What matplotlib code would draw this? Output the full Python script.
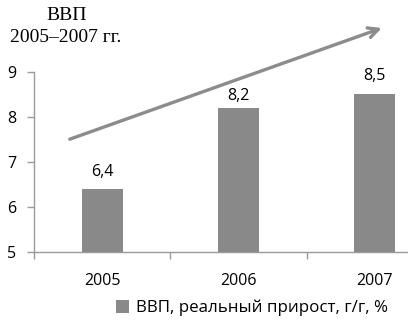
import matplotlib
matplotlib.use("Agg")
import matplotlib.pyplot as plt
from matplotlib.patches import Patch

years = ["2005", "2006", "2007"]
gdp_growth = [6.4, 8.2, 8.5]
value_labels = ["6,4", "8,2", "8,5"]
y_ticks = [5, 6, 7, 8, 9]
title_lines = ["ВВП", "2005–2007 гг."]
legend_label = "ВВП, реальный прирост, г/г, %"

bar_color = "#898989"
axis_color = "#9a9a9a"
arrow_color = "#8c8c8c"
sans = ["Open Sans", "DejaVu Sans"]
label_offsets = [6, 2.5, 7.5]  # points above each bar

fig = plt.figure(figsize=(4.08, 3.32), dpi=100)
ax = fig.add_axes([34 / 408, 1 - 251.7 / 332, 1 - 34 / 408, (251.7 - 71.7) / 332])

x = list(range(len(years)))
ax.bar(x, gdp_growth, width=0.3, bottom=0, color=bar_color, zorder=2)

ax.set_ylim(5, 9)
ax.set_xlim(-0.503, 2.246)
ax.set_yticks(y_ticks)
ax.set_yticklabels([str(v) for v in y_ticks], fontfamily=sans, fontsize=11.5)
ax.set_xticks([-0.5, 0.5, 1.5])
ax.set_xticklabels([])
ax.set_xticks(x, minor=True)
ax.set_xticklabels(years, minor=True, fontfamily=sans, fontsize=11.5)
ax.tick_params(axis="x", which="minor", length=0, pad=15)
ax.tick_params(axis="x", which="major", length=5, color=axis_color, width=1)
ax.tick_params(axis="y", length=5, color=axis_color, width=1, pad=8)

for side in ("top", "right"):
    ax.spines[side].set_visible(False)
for side in ("left", "bottom"):
    ax.spines[side].set_color(axis_color)
    ax.spines[side].set_linewidth(1)

for xi, v, lab, off in zip(x, gdp_growth, value_labels, label_offsets):
    ax.annotate(lab, (xi, v), xytext=(0, off), textcoords="offset points",
                ha="center", va="bottom", fontfamily=sans, fontsize=11.5)

# Growth trend arrow
ax.annotate("", xy=(2.053, 9.97), xytext=(-0.24, 7.5),
            arrowprops=dict(arrowstyle="->", lw=2.4, color=arrow_color,
                            mutation_scale=18, shrinkA=0, shrinkB=0),
            annotation_clip=False)

fig.text(67 / 408, 1 - 15 / 332, title_lines[0], ha="center", va="center",
         fontfamily="Liberation Serif", fontsize=14)
fig.text(66 / 408, 1 - 37 / 332, title_lines[1], ha="center", va="center",
         fontfamily="Liberation Serif", fontsize=14)

handle = Patch(facecolor=bar_color, edgecolor="none")
fig.legend([handle], [legend_label], loc="center left",
           bbox_to_anchor=(116 / 408, 1 - 308 / 332), frameon=False,
           handlelength=0.75, handleheight=0.75, handletextpad=0.45,
           borderpad=0, borderaxespad=0,
           prop={"family": sans, "size": 12.2})

fig.savefig("out.png", dpi=100)
